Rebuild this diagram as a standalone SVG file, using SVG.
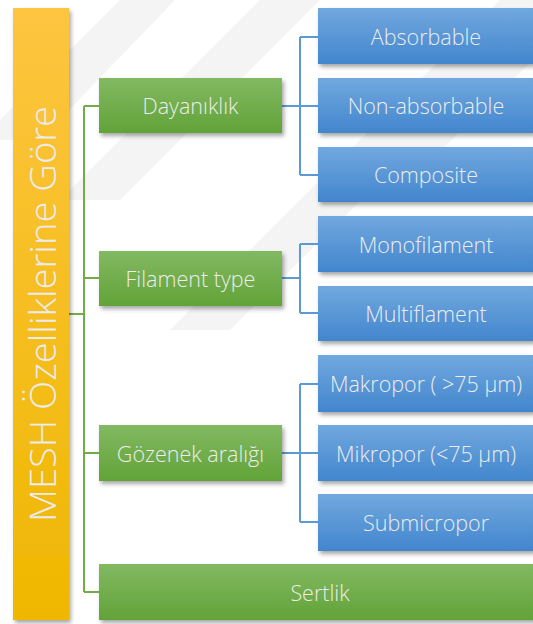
<svg xmlns="http://www.w3.org/2000/svg" width="533" height="624" viewBox="0 0 533 624">
<defs>
<linearGradient id="gGreen" x1="0" y1="0" x2="0" y2="1"><stop offset="0" stop-color="#82b962"/><stop offset="1" stop-color="#62a338"/></linearGradient>
<linearGradient id="gBlue" x1="0" y1="0" x2="0" y2="1"><stop offset="0" stop-color="#71a8df"/><stop offset="1" stop-color="#4286cd"/></linearGradient>
<linearGradient id="gYellow" x1="0" y1="0" x2="0" y2="1"><stop offset="0" stop-color="#fdc540"/><stop offset="1" stop-color="#efb700"/></linearGradient>
<filter id="sh" x="-10%" y="-20%" width="130%" height="160%"><feDropShadow dx="2" dy="3" stdDeviation="2" flood-color="#000" flood-opacity="0.35"/></filter>
</defs>
<style>
.lbl{font-family:"Open Sans","DejaVu Sans",sans-serif;font-size:21.5px;font-weight:300;fill:#ececec;text-anchor:middle;dominant-baseline:central}
.g{fill:url(#gGreen);filter:url(#sh)}
.b{fill:url(#gBlue);filter:url(#sh)}
.cg{stroke:#70ad47;stroke-width:2;fill:none}
.cb{stroke:#5b9bd5;stroke-width:2;fill:none}
.bg{fill:#f4f4f4}
</style>
<rect width="533" height="624" fill="#fff"/>
<g id="watermark">
<polygon class="bg" points="0,120 120,0 175,0 40,140 0,140"/>
<polygon class="bg" points="60,200 260,0 320,0 120,200"/>
<polygon class="bg" points="170,330 500,0 533,0 533,30 230,330"/>
<polygon class="bg" points="330,200 533,0 533,60 390,200"/>
</g>
<g id="connectors">
<path class="cg" d="M69 314 H84 M84 106 V592 M84 106 H99 M84 278 H99 M84 453 H99 M84 592 H99"/>
<path class="cb" d="M282 106 H318 M300 37 V175 M300 37 H318 M300 175 H318"/>
<path class="cb" d="M282 278 H300 M300 244 V313 M300 244 H318 M300 313 H318"/>
<path class="cb" d="M282 453 H318 M300 384 V522 M300 384 H318 M300 522 H318"/>
</g>
<g id="root"><rect x="13" y="8" width="56" height="612" fill="url(#gYellow)" filter="url(#sh)"/>
<text class="lbl" transform="translate(41 314) rotate(-90)" style="font-size:37px" textLength="416" lengthAdjust="spacingAndGlyphs">MESH Özelliklerine Göre</text></g>
<g id="dayaniklik"><rect class="g" x="99" y="78" width="183" height="55"/><text class="lbl" x="190.5" y="105.5">Dayanıklık</text></g>
<g id="filament"><rect class="g" x="99" y="251" width="183" height="55"/><text class="lbl" x="190.5" y="278.5">Filament type</text></g>
<g id="gozenek"><rect class="g" x="99" y="425" width="183" height="56"/><text class="lbl" x="190.5" y="453">Gözenek aralığı</text></g>
<g id="sertlik"><rect class="g" x="99" y="564" width="442" height="56"/><text class="lbl" x="320" y="592">Sertlik</text></g>
<g id="absorbable"><rect class="b" x="318" y="8" width="216" height="56"/><text class="lbl" x="426" y="36">Absorbable</text></g>
<g id="nonabsorbable"><rect class="b" x="318" y="78" width="216" height="55"/><text class="lbl" x="426" y="105.5">Non-absorbable</text></g>
<g id="composite"><rect class="b" x="318" y="147" width="216" height="55"/><text class="lbl" x="426" y="174.5">Composite</text></g>
<g id="monofilament"><rect class="b" x="318" y="216" width="216" height="56"/><text class="lbl" x="426" y="244">Monofilament</text></g>
<g id="multiflament"><rect class="b" x="318" y="286" width="216" height="55"/><text class="lbl" x="426" y="313.5">Multiflament</text></g>
<g id="makropor"><rect class="b" x="318" y="355" width="216" height="57"/><text class="lbl" x="426" y="383.5">Makropor ( &gt;75 µm)</text></g>
<g id="mikropor"><rect class="b" x="318" y="425" width="216" height="56"/><text class="lbl" x="426" y="453">Mikropor (&lt;75 µm)</text></g>
<g id="submicropor"><rect class="b" x="318" y="494" width="216" height="57"/><text class="lbl" x="426" y="522.5">Submicropor</text></g>
</svg>
